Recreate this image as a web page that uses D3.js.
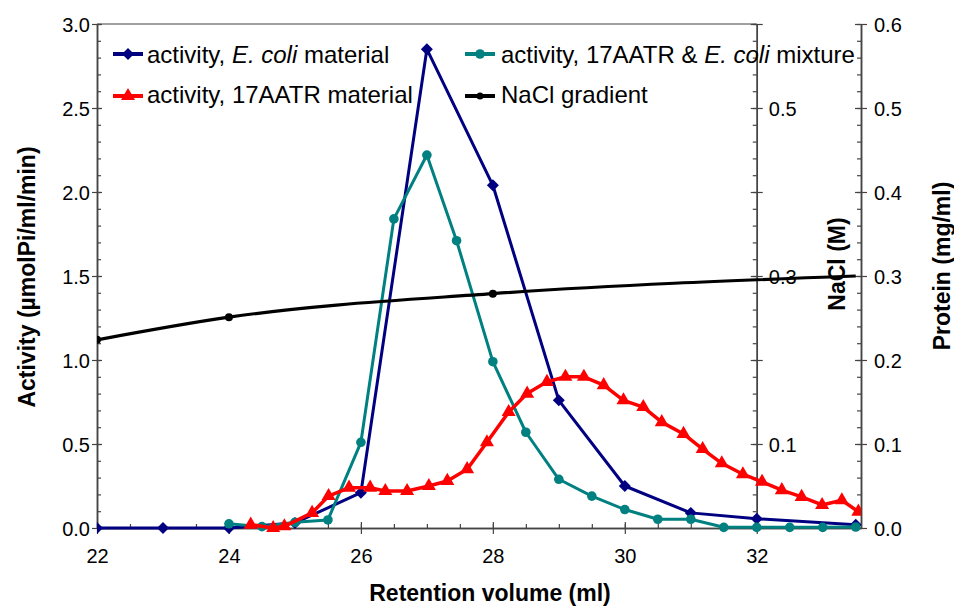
<!DOCTYPE html>
<html>
<head>
<meta charset="utf-8">
<script src="https://cdn.jsdelivr.net/npm/d3@7"></script>
<style>
  body { margin: 0; background: #fff; }
  text { font-family: "Liberation Sans", Arial, sans-serif; fill: #000; }
  .axisTitle { font-weight: bold; font-size: 23px; }
  .tickLabel { font-size: 20px; }
  .legendText { font-size: 24px; }
</style>
</head>
<body>
<div id="chart"></div>
<script>
// Chart data
var ecoliX = [22, 23, 24, 25, 26, 27, 28, 29, 30, 31, 32, 33.5];
var ecoliY = [0, 0, 0, 0.03, 0.21, 2.85, 2.04, 0.76, 0.25, 0.09, 0.055, 0.02];

var mixX = [24, 24.5, 25, 25.5, 26, 26.5, 27, 27.45, 28, 28.5, 29, 29.5, 30, 30.5, 31, 31.5, 32, 32.5, 33, 33.5];
var mixY = [0.025, 0.008, 0.034, 0.048, 0.51, 1.84, 2.22, 1.71, 0.99, 0.57, 0.29, 0.19, 0.11, 0.052, 0.052, 0.004, 0.004, 0.004, 0.004, 0.006];

var aatrX = [24.33, 24.67, 24.84, 25.26, 25.51, 25.82, 26.14, 26.37, 26.7, 27.03, 27.31, 27.61, 27.91, 28.24, 28.52, 28.82, 29.1, 29.38, 29.68, 29.98, 30.28, 30.56, 30.89, 31.18, 31.47, 31.79, 32.08, 32.38, 32.68, 32.99, 33.29, 33.54];
var aatrY = [0.02, 0.0, 0.01, 0.09, 0.19, 0.24, 0.24, 0.22, 0.22, 0.25, 0.28, 0.35, 0.51, 0.69, 0.8, 0.87, 0.9, 0.9, 0.85, 0.76, 0.72, 0.63, 0.56, 0.47, 0.385, 0.32, 0.275, 0.225, 0.185, 0.137, 0.165, 0.097];

var naclX = [22, 24, 28, 33.5];
var naclY = [0.224, 0.251, 0.279, 0.3];

var xTicks = [22, 24, 26, 28, 30, 32];
var yTicks = [0, 0.5, 1.0, 1.5, 2.0, 2.5, 3.0];
var rightTicks = [0, 0.1, 0.2, 0.3, 0.4, 0.5, 0.6];
var naclLabels = [0.1, 0.3, 0.5];

var svgWidth = 954;
var svgHeight = 610;

var svg = d3.select("#chart")
    .append("svg")
    .attr("width", svgWidth)
    .attr("height", svgHeight);

var x = d3.scaleLinear().domain([22, 33.58]).range([97, 861]);
var y = d3.scaleLinear().domain([0, 3]).range([528, 24]);
var yNacl = d3.scaleLinear().domain([0, 0.6]).range([528, 24]);
var yProt = d3.scaleLinear().domain([0, 0.6]).range([528, 24]);

var axisColor = "#444";

// top frame line (only over the activity area)
svg.append("line")
    .attr("x1", x(22)).attr("x2", x(32))
    .attr("y1", y(3)).attr("y2", y(3))
    .attr("stroke", "#808080").attr("stroke-width", 1.5);

function styleAxis(g) {
    g.select(".domain").attr("stroke", axisColor).attr("stroke-width", 1.5);
    g.selectAll(".tick line").attr("stroke", axisColor).attr("stroke-width", 1.2);
}

// minor ticks
var xMinor = d3.range(22, 33.6, 0.5);
svg.append("g")
    .attr("transform", `translate(0, ${y(0)})`)
    .call(d3.axisBottom(x).tickValues(xMinor).tickFormat("").tickSizeInner(-4).tickSizeOuter(0))
    .call(styleAxis);

var yMinor = d3.range(0, 3.01, 0.1);
svg.append("g")
    .attr("transform", `translate(${x(22)}, 0)`)
    .call(d3.axisLeft(y).tickValues(yMinor).tickFormat("").tickSizeInner(-4).tickSizeOuter(0))
    .call(styleAxis);

var rMinor = d3.range(0, 0.601, 0.02);
svg.append("g")
    .attr("transform", `translate(${x(32)}, 0)`)
    .call(d3.axisRight(yNacl).tickValues(rMinor).tickFormat("").tickSizeInner(-4).tickSizeOuter(0))
    .call(styleAxis);
svg.append("g")
    .attr("transform", `translate(${x(33.58)}, 0)`)
    .call(d3.axisRight(yProt).tickValues(rMinor).tickFormat("").tickSizeInner(-4).tickSizeOuter(0))
    .call(styleAxis);

// major ticks (crossing the axis)
var xAxisG = svg.append("g")
    .attr("transform", `translate(0, ${y(0)})`)
    .call(d3.axisBottom(x).tickValues(xTicks).tickFormat(d3.format("d")).tickSizeInner(6).tickSizeOuter(0))
    .call(styleAxis);
xAxisG.selectAll(".tick line").attr("y1", -6).attr("y2", 6);
xAxisG.selectAll(".tick text").attr("class", "tickLabel").attr("dy", null).attr("y", 35);

var yAxisG = svg.append("g")
    .attr("transform", `translate(${x(22)}, 0)`)
    .call(d3.axisLeft(y).tickValues(yTicks).tickFormat(d3.format(".1f")).tickSizeInner(5).tickSizeOuter(0))
    .call(styleAxis);
yAxisG.selectAll(".tick line").attr("x1", 5).attr("x2", -5);
yAxisG.selectAll(".tick text").attr("class", "tickLabel").attr("x", -7).attr("dy", "0.35em");

var naclG = svg.append("g")
    .attr("transform", `translate(${x(32)}, 0)`)
    .call(d3.axisRight(yNacl).tickValues(rightTicks)
        .tickFormat(d => naclLabels.some(v => Math.abs(v - d) < 1e-9) ? d3.format(".1f")(d) : "")
        .tickSizeInner(6).tickSizeOuter(0))
    .call(styleAxis);
naclG.selectAll(".tick line").attr("x1", -6).attr("x2", 6);
naclG.selectAll(".tick text").attr("class", "tickLabel").attr("x", 12).attr("dy", "0.35em");

var protG = svg.append("g")
    .attr("transform", `translate(${x(33.58)}, 0)`)
    .call(d3.axisRight(yProt).tickValues(rightTicks).tickFormat(d3.format(".1f")).tickSizeInner(6).tickSizeOuter(0))
    .call(styleAxis);
protG.selectAll(".tick line").attr("x1", -6).attr("x2", 6);
protG.selectAll(".tick text").attr("class", "tickLabel").attr("x", 13).attr("dy", "0.35em");

// clip for the data area
svg.append("clipPath").attr("id", "plotClip")
    .append("rect").attr("x", x(22)).attr("y", 0).attr("width", x(33.58) - x(22)).attr("height", y(0) + 8);

var plot = svg.append("g").attr("clip-path", "url(#plotClip)");

function diamondPath(r) {
    return `M0,${-r}L${r},0L0,${r}L${-r},0Z`;
}
var triPath = d3.symbol().type(d3.symbolTriangle).size(85)();

function drawSeries(xs, ys, scaleY, color, width, curve) {
    var pts = xs.map((d, i) => [x(d), scaleY(ys[i])]);
    var line = d3.line().curve(curve || d3.curveLinear);
    plot.append("path")
        .attr("d", line(pts))
        .attr("fill", "none")
        .attr("stroke", color)
        .attr("stroke-width", width)
        .attr("stroke-linejoin", "round");
    return pts;
}

// E. coli activity
var bluePts = drawSeries(ecoliX, ecoliY, y, "#000080", 3);
plot.selectAll(".blueMk").data(bluePts).enter().append("path")
    .attr("transform", d => `translate(${d[0]},${d[1]})`)
    .attr("d", diamondPath(6))
    .attr("fill", "#000080");

// mixture activity
var tealPts = drawSeries(mixX, mixY, y, "#008080", 3);
plot.selectAll(".tealMk").data(tealPts).enter().append("circle")
    .attr("cx", d => d[0]).attr("cy", d => d[1]).attr("r", 4.8)
    .attr("fill", "#008080");

// 17AATR activity
var redPts = drawSeries(aatrX, aatrY, y, "#ff0000", 3.5);
plot.selectAll(".redMk").data(redPts).enter().append("path")
    .attr("transform", d => `translate(${d[0]},${d[1]})`)
    .attr("d", triPath)
    .attr("fill", "#ff0000");

// NaCl gradient
var naclPts = drawSeries(naclX, naclY, yNacl, "#000", 3.2, d3.curveMonotoneX);
plot.selectAll(".blackMk").data(naclPts.filter((d, i) => naclX[i] < 33)).enter().append("circle")
    .attr("cx", d => d[0]).attr("cy", d => d[1]).attr("r", 4)
    .attr("fill", "#000");

// legend
var legend = svg.append("g");
function legendItem(lx, ly, color, width, kind) {
    legend.append("line")
        .attr("x1", lx - 15).attr("x2", lx + 15)
        .attr("y1", ly).attr("y2", ly)
        .attr("stroke", color).attr("stroke-width", width);
    if (kind === "diamond") {
        legend.append("path").attr("transform", `translate(${lx},${ly})`).attr("d", diamondPath(6)).attr("fill", color);
    } else if (kind === "tri") {
        legend.append("path").attr("transform", `translate(${lx},${ly})`).attr("d", triPath).attr("fill", color);
    } else if (kind === "circle") {
        legend.append("circle").attr("cx", lx).attr("cy", ly).attr("r", 4.8).attr("fill", color);
    } else {
        legend.append("circle").attr("cx", lx).attr("cy", ly).attr("r", 3.5).attr("fill", color);
    }
}
legendItem(128, 54, "#000080", 4, "diamond");
legendItem(128, 96, "#ff0000", 4, "tri");
legendItem(480, 54, "#008080", 4, "circle");
legendItem(480, 96, "#000", 4, "dot");

var t1 = legend.append("text").attr("class", "legendText").attr("x", 147).attr("y", 63);
t1.append("tspan").text("activity, ");
t1.append("tspan").style("font-style", "italic").text("E. coli");
t1.append("tspan").text(" material");

legend.append("text").attr("class", "legendText").attr("x", 147).attr("y", 103)
    .text("activity, 17AATR material");

var t3 = legend.append("text").attr("class", "legendText").attr("x", 501).attr("y", 63);
t3.append("tspan").text("activity, 17AATR & ");
t3.append("tspan").style("font-style", "italic").text("E. coli");
t3.append("tspan").text(" mixture");

legend.append("text").attr("class", "legendText").attr("x", 501).attr("y", 103)
    .text("NaCl gradient");

// axis titles
svg.append("text")
    .attr("class", "axisTitle")
    .attr("transform", "translate(35, 277) rotate(-90)")
    .style("text-anchor", "middle")
    .text("Activity (µmolPi/ml/min)");

svg.append("text")
    .attr("class", "axisTitle")
    .attr("transform", "translate(845, 264) rotate(-90)")
    .style("text-anchor", "middle")
    .text("NaCl (M)");

svg.append("text")
    .attr("class", "axisTitle")
    .attr("transform", "translate(950, 266) rotate(-90)")
    .style("text-anchor", "middle")
    .text("Protein (mg/ml)");

svg.append("text")
    .attr("class", "axisTitle")
    .attr("x", 490).attr("y", 601)
    .style("text-anchor", "middle")
    .text("Retention volume (ml)");
</script>
</body>
</html>
